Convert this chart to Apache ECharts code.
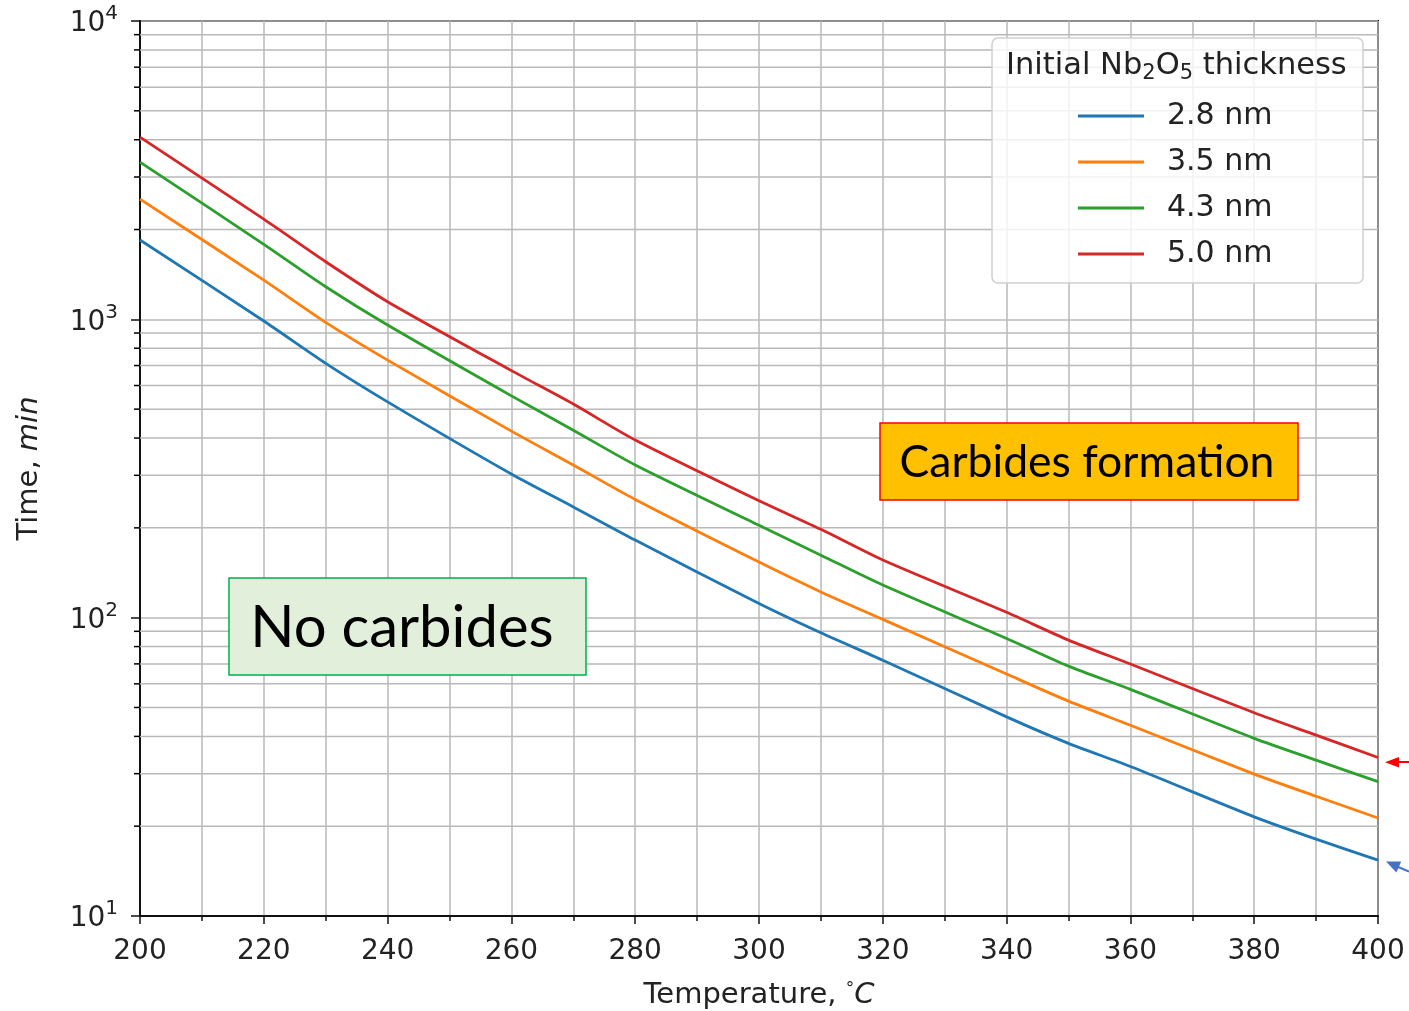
<!DOCTYPE html>
<html><head><meta charset="utf-8">
<script src="https://cdn.jsdelivr.net/npm/echarts@6/dist/echarts.min.js"></script>
<style>html,body{margin:0;padding:0;background:#fff;} #c{width:1409px;height:1011px;}</style>
</head><body><div id="c"></div>
<script>
// ---- data ----
const temps = [200, 220, 230, 240, 260, 270, 280, 300, 310, 320, 340, 350, 360, 380, 390, 400];
const t28 = [1845, 987, 712, 529, 303, 235, 182, 111.6, 89, 72, 46.5, 37.9, 31.7, 21.5, 18.1, 15.4];
const t35 = [2528, 1354, 977, 730, 422, 325, 249, 153.6, 122, 98.7, 64.7, 52.5, 43.6, 29.9, 25.2, 21.3];
const t43 = [3365, 1784, 1286, 957, 554, 425, 325, 204, 162, 128.6, 85.2, 68.8, 57.5, 39.4, 33.3, 28.2];
const t50 = [4083, 2167, 1560, 1146, 673, 520, 394, 246.5, 197.7, 156, 104.2, 84.1, 69.9, 48, 40.4, 34];
const seriesNames = ['2.8 nm', '3.5 nm', '4.3 nm', '5.0 nm'];
const seriesValues = [t28, t35, t43, t50];
const colors = ['#1f77b4', '#ff7f0e', '#2ca02c', '#d62728'];
const yMinor = [20,30,40,50,60,70,80,90,200,300,400,500,600,700,800,900,2000,3000,4000,5000,6000,7000,8000,9000];
const legendTitle = '{a|Initial Nb}{s|2}{a|O}{s|5}{a| thickness}';
const xName = 'Temperature, {deg|°}{it|C}';
const yName = 'Time, {it|min}';
const noteLeft = 'No carbides';
const noteRight = 'Carbides formation';

const FONT = 'DejaVu Sans';
const TXT = '#222';
const GRID = '#b9b9b9';

const chart = echarts.init(document.getElementById('c'), null, {renderer: 'canvas'});

const lineSeries = seriesNames.map((n, i) => ({
  name: n, type: 'line', data: temps.map((t, j) => [t, seriesValues[i][j]]),
  showSymbol: false, symbol: 'none', smooth: 0.25,
  lineStyle: {color: colors[i], width: 2.8, join: 'round'}, itemStyle: {color: colors[i]}, z: 3, silent: true
}));

const minorSeries = {
  type: 'custom', name: 'minor', silent: true, z: 1, clip: false,
  data: yMinor.map(v => [200, v]), encode: {x: 0, y: 1},
  renderItem(params, api) {
    const v = api.value(1);
    const a = api.coord([200, v]);
    const b = api.coord([400, v]);
    return {type: 'group', children: [
      {type: 'line', shape: {x1: a[0], y1: a[1], x2: b[0], y2: b[1]}, style: {stroke: GRID, lineWidth: 1.5}},
      {type: 'line', shape: {x1: a[0] - 6, y1: a[1], x2: a[0], y2: a[1]}, style: {stroke: '#000', lineWidth: 1.5}}
    ]};
  }
};

chart.setOption({
  animation: false,
  backgroundColor: '#fff',
  textStyle: {fontFamily: FONT},
  grid: {left: 140, right: 31, top: 21, bottom: 95, containLabel: false, outerBoundsMode: 'none',
         show: true, borderColor: '#111', borderWidth: 2},
  xAxis: {
    type: 'value', min: 200, max: 400, interval: 20,
    name: xName, nameLocation: 'middle', nameGap: 65,
    nameTextStyle: {color: TXT, fontFamily: FONT, fontSize: 29,
      rich: {deg: {fontSize: 17, color: TXT, fontFamily: FONT, verticalAlign: 'top', lineHeight: 22},
             it: {fontSize: 29, color: TXT, fontFamily: FONT, fontStyle: 'italic'}}},
    axisLine: {show: true, lineStyle: {color: '#111', width: 2}},
    axisTick: {show: true, inside: false, length: 8, lineStyle: {color: '#111', width: 1.5}},
    minorTick: {show: true, splitNumber: 2, length: 5, lineStyle: {color: '#111', width: 1.5}},
    splitLine: {show: true, lineStyle: {color: GRID, width: 1.5}},
    minorSplitLine: {show: true, lineStyle: {color: GRID, width: 1.5}},
    axisLabel: {color: TXT, fontFamily: FONT, fontSize: 28, margin: 22}
  },
  yAxis: {
    type: 'log', logBase: 10, min: 10, max: 10000,
    name: yName, nameLocation: 'middle', nameGap: 96, nameRotate: 90,
    nameTextStyle: {color: TXT, fontFamily: FONT, fontSize: 29,
      rich: {it: {fontSize: 29, color: TXT, fontFamily: FONT, fontStyle: 'italic'}}},
    axisLine: {show: true, lineStyle: {color: '#111', width: 2}},
    axisTick: {show: true, inside: false, length: 9, lineStyle: {color: '#111', width: 1.5}},
    splitLine: {show: true, lineStyle: {color: GRID, width: 1.5}},
    axisLabel: {
      margin: 22,
      formatter: v => '{b|10}{s|' + Math.round(Math.log10(v)) + '}',
      rich: {
        b: {fontSize: 28, fontFamily: FONT, color: TXT, lineHeight: 34, verticalAlign: 'bottom', padding: [6, 0, 0, 0]},
        s: {fontSize: 20, fontFamily: FONT, color: TXT, lineHeight: 22, verticalAlign: 'top'}
      }
    }
  },
  legend: {
    data: seriesNames, orient: 'vertical', left: 1078, top: 101, padding: 0, itemWidth: 66, itemHeight: 3, icon: 'rect',
    itemGap: 16, z: 6, selectedMode: false,
    textStyle: {fontFamily: FONT, fontSize: 30, color: TXT, lineHeight: 30, padding: [0, 0, 0, 18]}
  },
  graphic: [
    {type: 'rect', z: 5, shape: {x: 992, y: 38, width: 371, height: 245, r: 6},
     style: {fill: 'rgba(255,255,255,0.8)', stroke: '#cfcfcf', lineWidth: 1.5}},
    {type: 'text', z: 6, x: 1006, y: 66,
     style: {text: legendTitle, verticalAlign: 'middle', align: 'left',
       rich: {a: {fontFamily: FONT, fontSize: 30.5, fill: TXT, lineHeight: 36, verticalAlign: 'middle'},
              s: {fontFamily: FONT, fontSize: 21, fill: TXT, lineHeight: 20, verticalAlign: 'bottom'}}}},
    {type: 'rect', z: 5, shape: {x: 229, y: 578, width: 357, height: 97},
     style: {fill: '#e2efda', stroke: '#00b050', lineWidth: 1.5}},
    {type: 'text', z: 6, x: 402, y: 628,
     style: {text: noteLeft, font: '58px Lato', fill: '#000', align: 'center', verticalAlign: 'middle'}},
    {type: 'rect', z: 5, shape: {x: 880, y: 423, width: 418, height: 77},
     style: {fill: '#ffc000', stroke: '#ff0000', lineWidth: 1.5}},
    {type: 'text', z: 6, x: 1087, y: 463,
     style: {text: noteRight, font: '44.5px Lato', fill: '#000', align: 'center', verticalAlign: 'middle'}},
    // red arrow
    {type: 'line', z: 6, shape: {x1: 1396, y1: 762, x2: 1409, y2: 762}, style: {stroke: '#ff0000', lineWidth: 2}},
    {type: 'polygon', z: 6, shape: {points: [[1385, 762.3], [1399, 757], [1399, 767.5]]}, style: {fill: '#ff0000'}},
    // blue arrow
    {type: 'line', z: 6, shape: {x1: 1397, y1: 866.5, x2: 1409, y2: 871.5}, style: {stroke: '#4472c4', lineWidth: 2}},
    {type: 'polygon', z: 6, shape: {points: [[1386, 861.5], [1401.2, 861.6], [1396.4, 872.6]]}, style: {fill: '#4472c4'}}
  ],
  series: [minorSeries, ...lineSeries]
});
</script></body></html>
